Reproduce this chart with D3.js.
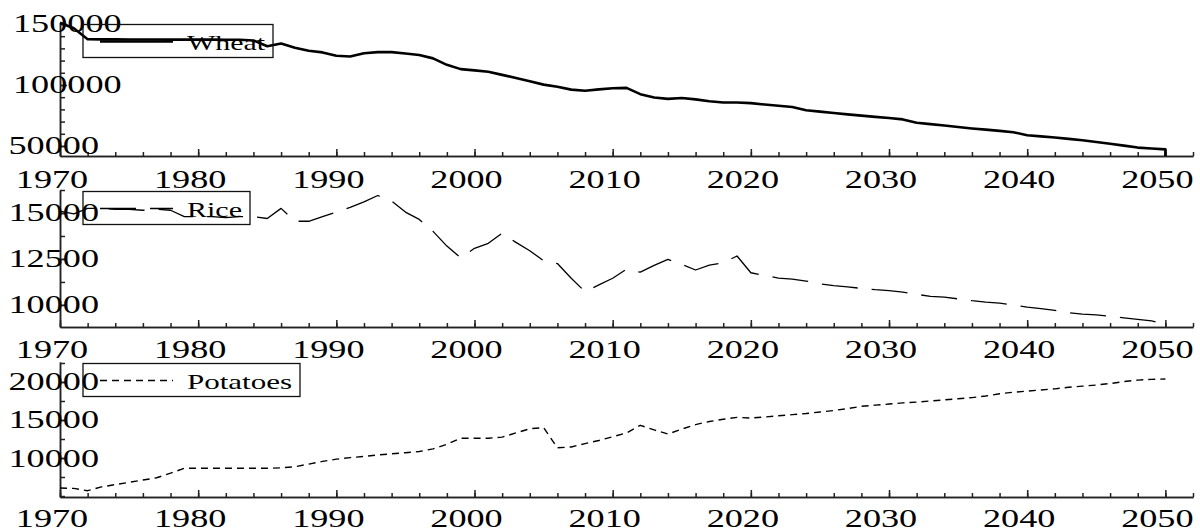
<!DOCTYPE html>
<html>
<head>
<meta charset="utf-8">
<script src="https://cdn.jsdelivr.net/npm/d3@7"></script>
<style>
  body { margin: 0; background: #fff; }
  svg { display: block; }
</style>
</head>
<body>
<svg id="chart" width="1200" height="530"></svg>
<script>
// ---- data -------------------------------------------------------------
const years = d3.range(1970, 2051);

const wheat = [
  151000, 146500, 137500, 137400, 137400, 137300, 137300, 137300, 137200, 137200,
  137200, 137200, 137100, 137100, 136500, 131800, 134000, 130600, 128000, 126700,
  124000, 123300, 126000, 126900, 126900, 125800, 124600, 121800, 116500, 113000,
  112000, 110800, 108300, 105800, 103000, 100300, 98600, 96200, 95300, 96400,
  97300, 97600, 92500, 89700, 88600, 89300, 88200, 86700, 85700, 85600,
  85100, 84000, 83000, 81900, 79300, 78200, 77100, 75900, 74900, 73900,
  73000, 71800, 69100, 67900, 66800, 65500, 64400, 63400, 62400, 61300,
  58800, 57900, 56900, 55800, 54700, 53300, 51900, 50300, 48700, 47900,
  47200
];

const rice = [
  15100, 14950, 15250, 15250, 15200, 15200, 15150, 15200, 15150, 14800,
  14800, 14800, 14750, 14800, 14800, 14700, 15250, 14550, 14550, 14800,
  15050, 15300, 15600, 15950, 15650, 15050, 14650, 14000, 13200, 12560,
  13080, 13350, 13900, 13400, 12950, 12400, 12250, 11450, 10720, 11090,
  11450, 11940, 11780, 12150, 12480, 12200, 11900, 12170, 12290, 12660,
  11750, 11600, 11460, 11400, 11300, 11150, 11050, 10980, 10900, 10830,
  10780, 10700, 10580, 10460, 10420, 10330, 10230, 10150, 10100, 10000,
  9880, 9800, 9700, 9580, 9500, 9460, 9380, 9300, 9210, 9130,
  8970
];

const potatoes = [
  6050, 6000, 5700, 6200, 6500, 6800, 7100, 7400, 8000, 8650,
  8650, 8650, 8650, 8650, 8650, 8650, 8700, 8850, 9200, 9550,
  9850, 10050, 10200, 10400, 10550, 10700, 10850, 11200, 11800, 12600,
  12600, 12600, 12750, 13300, 13850, 14000, 11350, 11450, 11900, 12300,
  12800, 13300, 14300, 13700, 13150, 13800, 14400, 14800, 15100, 15350,
  15250, 15400, 15550, 15700, 15850, 16050, 16250, 16500, 16800, 16950,
  17100, 17250, 17350, 17500, 17650, 17800, 17950, 18150, 18450, 18650,
  18800, 18950, 19100, 19300, 19450, 19600, 19800, 20050, 20250, 20350,
  20400
];

const yearTicks = [1970, 1980, 1990, 2000, 2010, 2020, 2030, 2040, 2050];
const wheatTicks = [50000, 100000, 150000];
const riceTicks = [10000, 12500, 15000];
const potatoTicks = [10000, 15000, 20000];

// ---- layout -----------------------------------------------------------
const FONT = "'Liberation Serif', 'Times New Roman', Times, 'DejaVu Serif', serif";
const svg = d3.select("#chart").attr("font-family", FONT);
const DIGIT_W = 18.1;          // stretched width of one digit
const AXIS = "#222";
const left = 60, right = 1193;

const x = d3.scaleLinear().domain([1970, 2052]).range([left, right]);

const panels = [
  { name: "Wheat", values: wheat, ticks: wheatTicks, minor: 10000,
    domain: [41800, 150800], top: 23, bottom: 156,
    width: 2.6, dash: null, toAxisAtEnd: true, labelGap: 32, nameW: 78 },
  { name: "Rice", values: rice, ticks: riceTicks, minor: 1250,
    domain: [8800, 16250], top: 190, bottom: 327,
    width: 1.3, dash: "36,14", toAxisAtEnd: false, labelGap: 31, nameW: 55 },
  { name: "Potatoes", values: potatoes, ticks: potatoTicks, minor: 2500,
    domain: [4870, 22630], top: 362, bottom: 497,
    width: 1.4, dash: "7,5", toAxisAtEnd: false, labelGap: 29.5, nameW: 105 }
];

const xMinor = d3.range(1970, 2053, 2);

panels.forEach(p => {
  const y = d3.scaleLinear().domain(p.domain).range([p.bottom, p.top]);
  const g = svg.append("g").attr("class", "panel");

  // x axis: line + inward ticks
  const xAxisMinor = d3.axisBottom(x).tickValues(xMinor).tickSize(-4)
    .tickSizeOuter(0).tickFormat("");
  const xAxisMajor = d3.axisBottom(x).tickValues(yearTicks).tickSize(-7)
    .tickSizeOuter(0).tickFormat("");
  g.append("g").attr("transform", `translate(0,${p.bottom})`).call(xAxisMinor);
  g.append("g").attr("transform", `translate(0,${p.bottom})`).call(xAxisMajor);

  // y axis: line + inward ticks
  const yMinorVals = d3.range(Math.ceil(p.domain[0] / p.minor) * p.minor, p.domain[1] + 1, p.minor);
  const yAxisMinor = d3.axisLeft(y).tickValues(yMinorVals).tickSize(-5)
    .tickSizeOuter(0).tickFormat("");
  const yAxisMajor = d3.axisLeft(y).tickValues(p.ticks).tickSize(-7)
    .tickSizeOuter(0).tickFormat("");
  g.append("g").attr("transform", `translate(${left},0)`).call(yAxisMinor);
  g.append("g").attr("transform", `translate(${left},0)`).call(yAxisMajor);

  g.selectAll(".domain, .tick line")
    .attr("stroke", AXIS).attr("stroke-width", 1.5);

  // year labels under the axis
  g.selectAll("text.xl").data(yearTicks).enter().append("text")
    .attr("class", "xl")
    .attr("font-family", FONT)
    .attr("font-size", 25)
    .attr("fill", "#000")
    .attr("x", d => x(d) - 8 - 2 * DIGIT_W)
    .attr("y", p.bottom + p.labelGap)
    .attr("textLength", d => String(d).length * DIGIT_W)
    .attr("lengthAdjust", "spacingAndGlyphs")
    .text(d => d);

  // value labels on the left
  g.selectAll("text.yl").data(p.ticks).enter().append("text")
    .attr("class", "yl")
    .attr("font-family", FONT)
    .attr("font-size", 25)
    .attr("fill", "#000")
    .attr("x", d => 8.5 + (String(d).length - 5) * 4.5)
    .attr("y", d => y(d) + 8.5)
    .attr("textLength", d => String(d).length * DIGIT_W)
    .attr("lengthAdjust", "spacingAndGlyphs")
    .text(d => d);

  // series line
  const pts = years.map((yr, i) => [yr, p.values[i]]);
  if (p.toAxisAtEnd) pts.push([years[years.length - 1], p.domain[0]]);
  const line = d3.line().x(d => x(d[0])).y(d => y(d[1]));
  g.append("path")
    .attr("d", line(pts))
    .attr("fill", "none")
    .attr("stroke", "#000")
    .attr("stroke-width", p.width)
    .attr("stroke-linejoin", "round")
    .attr("stroke-dasharray", p.dash);

  // legend box
  const boxX = 83, boxTop = p.top + 1.5, boxH = 33, textX = 187;
  const lg = g.append("g").attr("class", "legend");
  lg.append("rect")
    .attr("x", boxX).attr("y", boxTop)
    .attr("width", textX + p.nameW + 8 - boxX).attr("height", boxH)
    .attr("fill", "none").attr("stroke", "#111").attr("stroke-width", 1.3);
  lg.append("line")
    .attr("x1", 100).attr("x2", 173)
    .attr("y1", boxTop + 17).attr("y2", boxTop + 17)
    .attr("stroke", "#000")
    .attr("stroke-width", p.width)
    .attr("stroke-dasharray", p.dash);
  lg.append("text")
    .attr("font-family", FONT)
    .attr("font-size", 21)
    .attr("fill", "#000")
    .attr("x", textX)
    .attr("y", boxTop + 25.5)
    .attr("textLength", p.nameW)
    .attr("lengthAdjust", "spacingAndGlyphs")
    .text(p.name);
});
</script>
</body>
</html>
